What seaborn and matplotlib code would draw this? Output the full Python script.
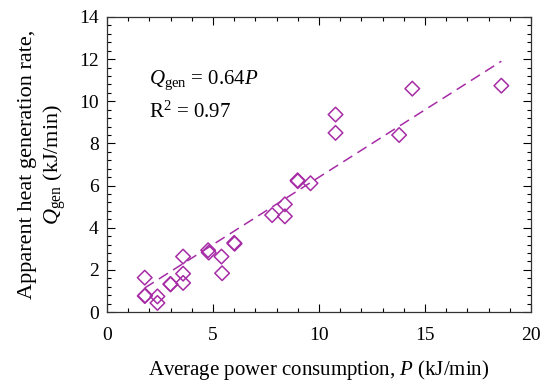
import matplotlib
matplotlib.use("Agg")
import matplotlib.pyplot as plt
import seaborn as sns
import pandas as pd
from matplotlib.ticker import MultipleLocator

power = [1.78, 1.78, 1.80, 2.38, 2.38, 2.99, 3.00, 3.59, 3.59, 3.59, 4.77, 4.80,
         5.40, 5.43, 6.00, 6.02, 7.79, 8.39, 8.39, 8.99, 9.00, 9.60, 10.78, 10.78,
         13.78, 14.40, 18.60]
heat = [1.63, 0.76, 0.78, 0.74, 0.43, 1.33, 1.31, 2.63, 1.82, 1.38, 2.93, 2.82,
        2.63, 1.84, 3.28, 3.24, 4.60, 5.11, 4.54, 6.25, 6.21, 6.11, 9.37, 8.50,
        8.40, 10.60, 10.74]
fit_x = [1.78, 18.6]
fit_y = [1.14, 11.90]

purple = "#a62ca6"

sns.set_theme(style="ticks")
plt.rcParams["font.family"] = ["Liberation Serif", "DejaVu Serif"]
plt.rcParams["mathtext.fontset"] = "custom"
plt.rcParams["mathtext.rm"] = "Liberation Serif"
plt.rcParams["mathtext.it"] = "Liberation Serif:italic"
plt.rcParams["text.color"] = "black"
plt.rcParams["axes.labelcolor"] = "black"

fig = plt.figure(figsize=(5.5, 3.86), dpi=100)
ax = fig.add_axes([0.1945, 0.1917, 0.771, 0.7643])

df = pd.DataFrame({"P": power, "Q": heat})
sns.scatterplot(data=df, x="P", y="Q", ax=ax, marker="D", s=55,
                facecolor="none", edgecolor=purple, linewidth=1.1, zorder=3)
sns.lineplot(x=fit_x, y=fit_y, ax=ax, color=purple, linewidth=1.1, zorder=2)
ax.lines[-1].set_dashes([7, 4])

ax.set_xlim(0, 20)
ax.set_ylim(0, 14)
ax.xaxis.set_major_locator(MultipleLocator(5))
ax.xaxis.set_minor_locator(MultipleLocator(1))
ax.yaxis.set_major_locator(MultipleLocator(2))
ax.yaxis.set_minor_locator(MultipleLocator(0.4))
ax.tick_params(which="both", direction="in", top=True, right=True,
               labelsize=14, colors="black", width=0.8)
ax.tick_params(which="major", length=6)
ax.tick_params(axis="x", which="major", pad=11)
ax.tick_params(axis="y", which="major", pad=6)
ax.tick_params(which="minor", length=3)
for s in ax.spines.values():
    s.set_color("#333333")
    s.set_linewidth(0.9)

ax.set_xlabel("Average power consumption, $\\mathit{P}$ (kJ/min)", fontsize=15, labelpad=10)
ax.set_ylabel("Apparent heat generation rate,\n$\\mathit{Q}_{\\mathrm{gen}}$ (kJ/min)",
              fontsize=16, labelpad=8, linespacing=1.25)

ax.text(2.0, 11.0, "$\\mathit{Q}_{\\mathrm{gen}}$ = 0.64$\\mathit{P}$", fontsize=15,
        va="center", ha="left")
ax.text(2.0, 9.5, "R$^{2}$ = 0.97", fontsize=15, va="center", ha="left")

fig.savefig("out.png", dpi=100)
